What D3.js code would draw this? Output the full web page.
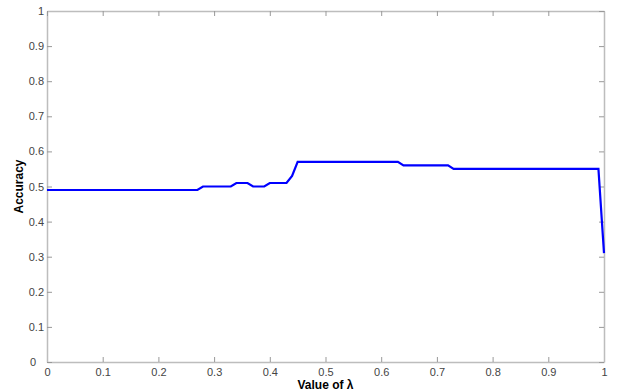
<!DOCTYPE html>
<html>
<head>
<meta charset="utf-8">
<script src="https://cdn.jsdelivr.net/npm/d3@7"></script>
<style>
  body { margin: 0; background: #fff; }
  svg { display: block; font-family: "Liberation Sans", Arial, sans-serif; }
</style>
</head>
<body>
<svg id="chart" width="617" height="392"></svg>
<script>
// lambda values where the curve changes level, and accuracy at each
const lambdas = [0, 0.27, 0.28, 0.33, 0.34, 0.36, 0.37, 0.39, 0.40, 0.43, 0.44, 0.45, 0.63, 0.64, 0.72, 0.73, 0.99, 1.0];
const accuracy = [0.49, 0.49, 0.50, 0.50, 0.51, 0.51, 0.50, 0.50, 0.51, 0.51, 0.53, 0.57, 0.57, 0.56, 0.56, 0.55, 0.55, 0.31];
const tickValues = [0, 0.1, 0.2, 0.3, 0.4, 0.5, 0.6, 0.7, 0.8, 0.9, 1];
const tickLabels = ['0', '0.1', '0.2', '0.3', '0.4', '0.5', '0.6', '0.7', '0.8', '0.9', '1'];

const margin = { top: 11, right: 13, bottom: 30, left: 47 };
const width = 617, height = 392;

const svg = d3.select('#chart');

const x = d3.scaleLinear().domain([0, 1]).range([margin.left, width - margin.right]);
const y = d3.scaleLinear().domain([0, 1]).range([height - margin.bottom, margin.top]);

const axisColor = '#bdbdbd';
const fmt = (d, i) => tickLabels[i];

// bottom axis (ticks pointing inward)
const gx = svg.append('g')
  .attr('transform', 'translate(0,' + y(0) + ')')
  .call(d3.axisBottom(x).tickValues(tickValues).tickFormat(fmt).tickSizeInner(-5).tickSizeOuter(0).tickPadding(6));

// left axis
const gy = svg.append('g')
  .attr('transform', 'translate(' + x(0) + ',0)')
  .call(d3.axisLeft(y).tickValues(tickValues).tickFormat(fmt).tickSizeInner(-5).tickSizeOuter(0).tickPadding(3));

// the "0" at the origin sits a bit further left, as in the original
gy.selectAll('.tick text').filter(d => d === 0).attr('x', -11);

// top & right mirrored ticks
const gt = svg.append('g')
  .attr('transform', 'translate(0,' + y(1) + ')')
  .call(d3.axisTop(x).tickValues(tickValues).tickFormat('').tickSizeInner(-5).tickSizeOuter(0));
const gr = svg.append('g')
  .attr('transform', 'translate(' + x(1) + ',0)')
  .call(d3.axisRight(y).tickValues(tickValues).tickFormat('').tickSizeInner(-5).tickSizeOuter(0));

[gx, gy, gt, gr].forEach(g => {
  g.selectAll('.domain').attr('stroke', axisColor).attr('stroke-width', 1.5);
  g.selectAll('.tick line').attr('stroke', '#999');
  g.selectAll('.tick text').attr('fill', '#444').style('font-size', '11px');
});

// data line
const pts = lambdas.map((l, i) => [l, accuracy[i]]);
svg.append('path')
  .datum(pts)
  .attr('d', d3.line().x(d => x(d[0])).y(d => y(d[1])))
  .attr('fill', 'none')
  .attr('stroke', '#0000ff')
  .attr('stroke-width', 2.2);

// axis labels
svg.append('text')
  .attr('x', (x(0) + x(1)) / 2)
  .attr('y', 389)
  .attr('text-anchor', 'middle')
  .style('font-size', '12px')
  .style('font-weight', 'bold')
  .text('Value of λ');

svg.append('text')
  .attr('transform', 'translate(23,' + (y(0) + y(1)) / 2 + ') rotate(-90)')
  .attr('text-anchor', 'middle')
  .style('font-size', '12px')
  .style('font-weight', 'bold')
  .text('Accuracy');
</script>
</body>
</html>
